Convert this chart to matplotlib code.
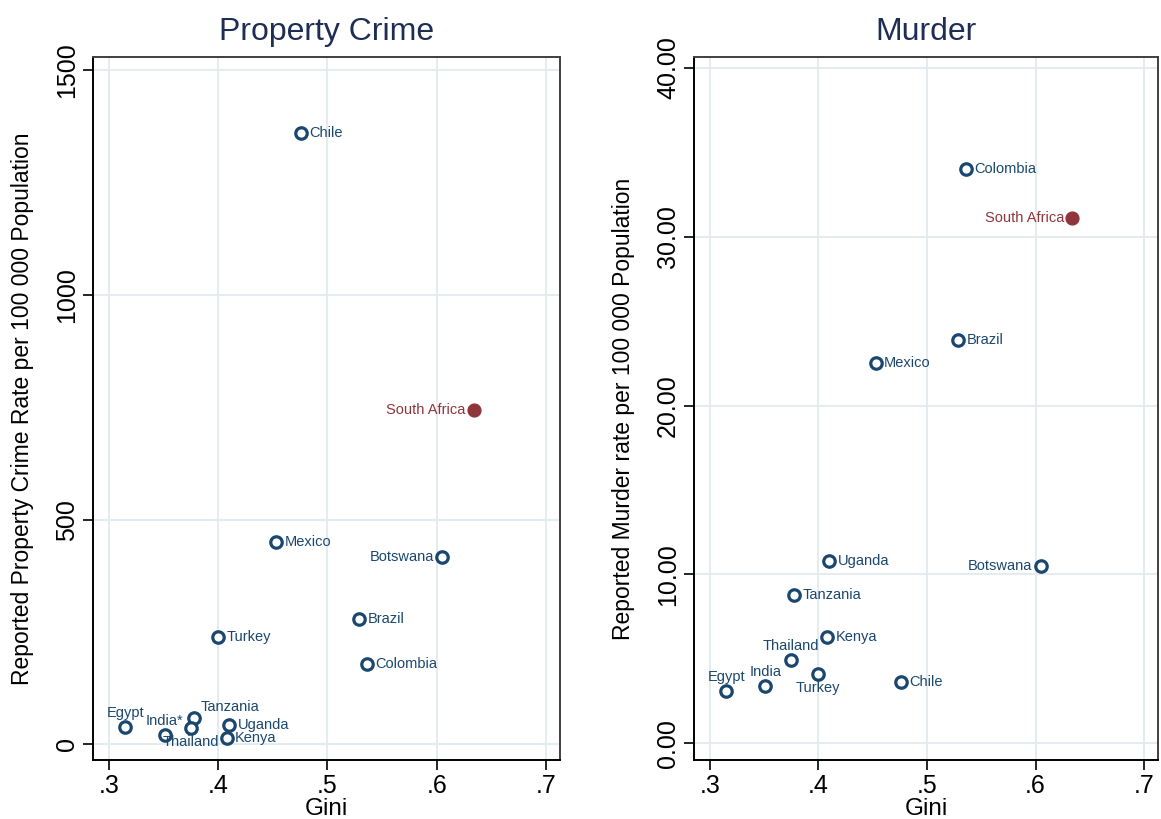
import matplotlib.pyplot as plt

plt.rcParams['font.family'] = ['Liberation Sans', 'DejaVu Sans']

# Gini coefficient and reported rates per 100 000 population
countries = ['Chile', 'South Africa', 'Mexico', 'Botswana', 'Brazil', 'Turkey',
             'Colombia', 'Egypt', 'India', 'Tanzania', 'Thailand', 'Uganda', 'Kenya']
gini = [0.476, 0.634, 0.453, 0.605, 0.529, 0.400,
        0.536, 0.315, 0.351, 0.378, 0.375, 0.410, 0.408]
property_rate = [1360, 744, 451, 416, 278, 238,
                 178, 38, 20, 58, 36, 42, 13]
murder_rate = [3.6, 31.1, 22.5, 10.5, 23.9, 4.1,
               34.0, 3.1, 3.4, 8.8, 4.9, 10.8, 6.3]

property_names = {'India': 'India*'}

# where each country's label sits relative to its marker
property_pos = {
    'South Africa': 'left', 'Botswana': 'left',
    'Egypt': 'above', 'India': 'above', 'Tanzania': 'upright',
    'Thailand': 'below',
}
murder_pos = {
    'South Africa': 'left', 'Botswana': 'left',
    'Thailand': 'above', 'India': 'above', 'Egypt': 'above',
    'Turkey': 'below',
}
offsets = {
    'right': (6, 0, 'left', 'center'),
    'left': (-6, 0, 'right', 'center'),
    'above': (0, 5, 'center', 'bottom'),
    'below': (0, -5, 'center', 'top'),
    'upright': (5, 3, 'left', 'bottom'),
}

navy = '#1a476f'
maroon = '#90353b'
title_col = '#1e2d53'
grid_col = '#e3eaee'

fig = plt.figure(figsize=(11.61, 8.19), dpi=100)
ax1 = fig.add_axes([0.0801, 0.0720, 0.4022, 0.8584])
ax2 = fig.add_axes([0.5978, 0.0720, 0.3996, 0.8584])


def draw_panel(ax, values, positions, names, title, ylabel, yticks, yfmt, ylim):
    for c, g, v in zip(countries, gini, values):
        if c == 'South Africa':
            ax.scatter(g, v, s=85, color=maroon, edgecolors=maroon, zorder=3)
            col = maroon
        else:
            ax.scatter(g, v, s=68, facecolors='white', edgecolors=navy,
                       linewidths=2.3, zorder=3)
            col = navy
        dx, dy, ha, va = offsets[positions.get(c, 'right')]
        ax.annotate(names.get(c, c), (g, v), xytext=(dx, dy), textcoords='offset points',
                    ha=ha, va=va, fontsize=10.5, color=col, zorder=4)

    ax.set_xlim(0.2855, 0.7128)
    ax.set_ylim(*ylim)
    ax.set_xticks([0.3, 0.4, 0.5, 0.6, 0.7])
    ax.set_xticklabels(['.3', '.4', '.5', '.6', '.7'])
    ax.set_yticks(yticks)
    ax.set_yticklabels([yfmt.format(t) for t in yticks], rotation=90, va='center')
    ax.grid(True, color=grid_col, linewidth=1.3)
    ax.set_axisbelow(True)
    ax.tick_params(direction='out', length=7, width=1.2, labelsize=18, pad=3, colors='black')
    for side in ['left', 'bottom']:
        ax.spines[side].set_color('black')
        ax.spines[side].set_linewidth(1.4)
    for side in ['top', 'right']:
        ax.spines[side].set_color('#404040')
        ax.spines[side].set_linewidth(1.4)
    ax.set_title(title, fontsize=23, color=title_col, pad=12)
    ax.set_xlabel('Gini', fontsize=17.5, labelpad=0)
    ax.set_ylabel(ylabel, fontsize=16.5, labelpad=15)


draw_panel(ax1, property_rate, property_pos, property_names, 'Property Crime',
           'Reported Property Crime Rate per 100 000 Population',
           [0, 500, 1000, 1500], '{:d}', (-35, 1530))
draw_panel(ax2, murder_rate, murder_pos, {}, 'Murder',
           'Reported Murder rate per 100 000 Population',
           [0, 10, 20, 30, 40], '{:.2f}', (-1.0, 40.65))

fig.savefig('out.png', dpi=100, facecolor='white')
